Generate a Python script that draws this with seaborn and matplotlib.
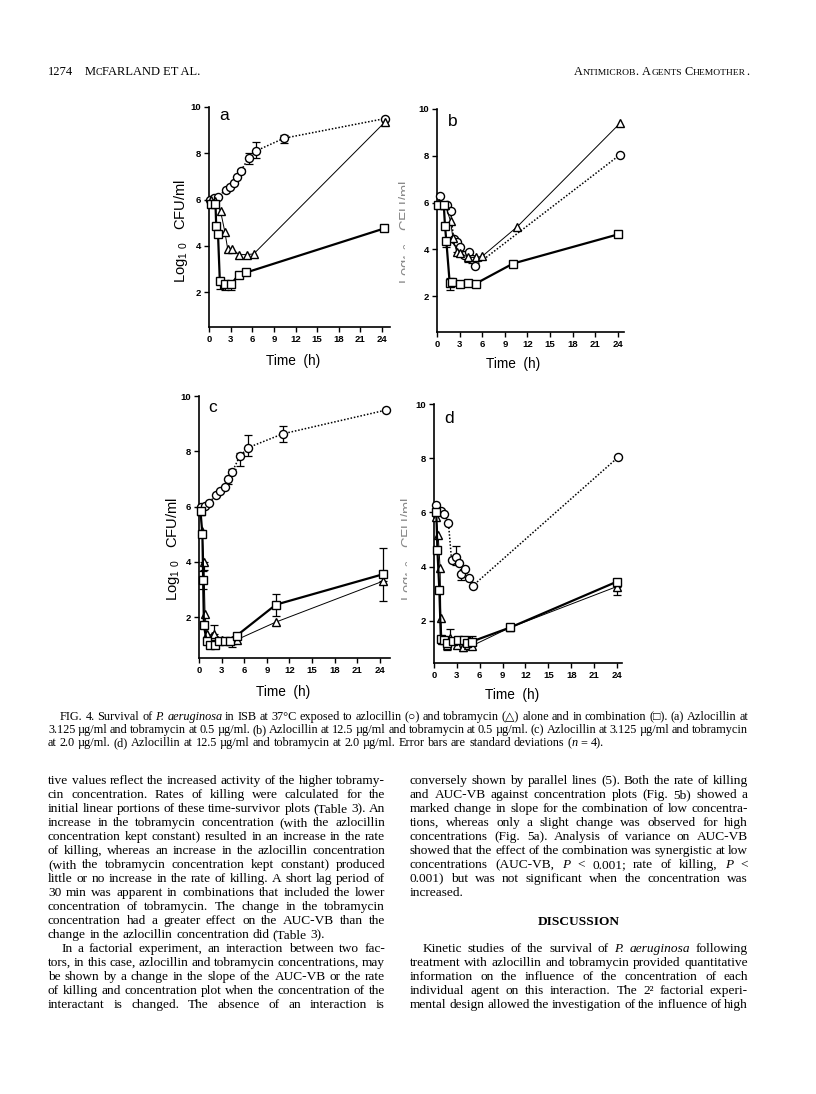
import matplotlib
matplotlib.use("Agg")
import matplotlib.pyplot as plt
import seaborn as sns
import pandas as pd
from matplotlib.font_manager import FontProperties
from matplotlib.transforms import Bbox

# ---------------- data ----------------
time_ticks = [0, 3, 6, 9, 12, 15, 18, 21, 24]
log_ticks = [2, 4, 6, 8, 10]

# panel a: azlocillin 3.125 / tobramycin 0.5
a_circ_x = [0.2, 0.75, 1.3, 2.3, 2.9, 3.4, 3.9, 4.4, 5.5, 6.5, 10.4, 24.4]
a_circ_y = [6.0, 6.05, 6.12, 6.43, 6.55, 6.7, 6.96, 7.23, 7.8, 8.1, 8.65, 9.5]
a_tri_x = [0.3, 0.9, 1.6, 2.2, 2.6, 3.2, 4.2, 5.3, 6.2, 24.4]
a_tri_y = [6.0, 5.95, 5.5, 4.6, 3.85, 3.85, 3.62, 3.62, 3.65, 9.35]
a_sq_x = [0.3, 0.9, 1.0, 1.25, 1.5, 2.2, 3.1, 4.1, 5.2, 24.3]
a_sq_y = [5.8, 5.8, 4.85, 4.5, 2.5, 2.35, 2.35, 2.75, 2.85, 4.75]
a_err_x = [4.4, 5.5, 6.5, 10.4, 1.5, 2.2, 3.1]
a_err_y = [7.23, 7.8, 8.1, 8.65, 2.5, 2.35, 2.35]
a_err_lo = [0.1, 0.25, 0.3, 0.2, 0.35, 0.25, 0.25]
a_err_hi = [0.1, 0.2, 0.4, 0.15, 0.0, 0.0, 0.0]

# panel b: azlocillin 12.5 / tobramycin 0.5
b_circ_x = [0.35, 1.3, 1.8, 2.2, 2.7, 3.1, 3.6, 4.2, 4.7, 5.1, 24.3]
b_circ_y = [6.27, 5.9, 5.64, 4.45, 4.3, 4.1, 3.75, 3.9, 3.6, 3.3, 8.05]
b_tri_x = [0.2, 1.1, 1.8, 2.1, 2.6, 3.1, 4.1, 5.2, 6.0, 10.6, 24.3]
b_tri_y = [6.0, 5.9, 5.2, 4.5, 3.9, 3.85, 3.65, 3.65, 3.7, 4.95, 9.4]
b_sq_x = [0.18, 0.9, 1.06, 1.24, 1.68, 2.04, 3.1, 4.12, 5.14, 10.1, 24.05]
b_sq_y = [5.89, 5.89, 5.0, 4.34, 2.57, 2.6, 2.5, 2.57, 2.53, 3.39, 4.64]
b_err_x = [1.24, 1.68, 2.6, 3.1, 4.1, 4.7]
b_err_y = [4.34, 2.57, 3.9, 3.85, 3.65, 3.6]
b_err_lo = [0.25, 0.3, 0.0, 0.15, 0.2, 0.2]
b_err_hi = [0.0, 0.2, 0.35, 0.25, 0.0, 0.0]

# panel c: azlocillin 3.125 / tobramycin 2.0
c_circ_x = [0.2, 0.75, 1.3, 2.3, 2.8, 3.4, 3.9, 4.4, 5.4, 6.5, 11.1, 24.8]
c_circ_y = [6.0, 6.03, 6.14, 6.42, 6.56, 6.7, 6.98, 7.25, 7.82, 8.13, 8.63, 9.49]
c_tri_x = [0.2, 0.4, 0.65, 0.8, 1.05, 1.7, 2.0, 3.1, 4.4, 5.0, 10.2, 24.4]
c_tri_y = [5.83, 5.1, 4.0, 2.12, 1.4, 1.33, 1.4, 1.18, 1.18, 1.18, 1.82, 3.3]
c_sq_x = [0.2, 0.45, 0.55, 0.65, 1.0, 1.4, 2.1, 2.7, 3.5, 4.1, 5.0, 10.2, 24.4]
c_sq_y = [5.83, 5.0, 3.35, 1.7, 1.15, 1.0, 1.0, 1.15, 1.13, 1.13, 1.33, 2.45, 3.55]
c_err_x = [3.9, 4.4, 5.4, 6.5, 11.1, 0.55, 10.2, 24.4, 0.65, 2.0, 24.4, 4.4]
c_err_y = [6.98, 7.25, 7.82, 8.13, 8.63, 3.35, 2.45, 3.55, 4.0, 1.4, 3.3, 1.18]
c_err_lo = [0.15, 0.0, 0.35, 0.3, 0.3, 0.35, 0.4, 0.0, 0.3, 0.0, 0.7, 0.25]
c_err_hi = [0.0, 0.1, 0.1, 0.45, 0.3, 0.3, 0.4, 0.95, 0.0, 0.3, 0.0, 0.0]

# panel d: azlocillin 12.5 / tobramycin 2.0
d_circ_x = [0.25, 0.95, 1.35, 1.9, 2.3, 2.85, 3.25, 3.6, 4.1, 4.6, 5.1, 24.2]
d_circ_y = [6.28, 6.05, 5.95, 5.6, 4.25, 4.35, 4.15, 3.75, 3.9, 3.57, 3.3, 8.05]
d_tri_x = [0.25, 0.55, 0.8, 0.9, 1.05, 1.65, 2.1, 3.05, 3.85, 4.4, 4.95, 10.0, 24.0]
d_tri_y = [5.85, 5.17, 3.95, 2.1, 1.28, 1.12, 1.37, 1.12, 1.05, 1.1, 1.08, 1.76, 3.27]
d_sq_x = [0.3, 0.45, 0.7, 0.9, 1.3, 1.65, 2.5, 3.1, 3.9, 4.3, 4.95, 10.0, 24.0]
d_sq_y = [6.0, 4.6, 3.15, 1.33, 1.3, 1.2, 1.25, 1.3, 1.28, 1.2, 1.24, 1.76, 3.45]
d_err_x = [2.85, 3.6, 24.0, 2.1, 1.65, 3.85, 4.3, 4.95]
d_err_y = [4.35, 3.75, 3.27, 1.37, 1.12, 1.05, 1.2, 1.24]
d_err_lo = [0.3, 0.25, 0.3, 0.0, 0.2, 0.15, 0.0, 0.0]
d_err_hi = [0.4, 0.0, 0.0, 0.35, 0.0, 0.0, 0.2, 0.2]

# ---------------- text ----------------
header_left_num = "1274"
header_left = [("M", 9.0), ("C", 7.0), ("FARLAND ET AL.", 9.0)]
header_right = [("A", 8.8), ("NTIMICROB", 6.8), (". ", 8.8), ("A", 8.8), ("GENTS", 6.8),
                (" ", 8.8), ("C", 8.8), ("HEMOTHER", 6.8), (".", 8.8)]

caption_lines = [
    "FIG. 4. Survival of *P.* *aeruginosa* in ISB at 37°C exposed to azlocillin (○) and tobramycin (△) alone and in combination (□). (a) Azlocillin at",
    "3.125 µg/ml and tobramycin at 0.5 µg/ml. (b) Azlocillin at 12.5 µg/ml and tobramycin at 0.5 µg/ml. (c) Azlocillin at 3.125 µg/ml and tobramycin",
    "at 2.0 µg/ml. (d) Azlocillin at 12.5 µg/ml and tobramycin at 2.0 µg/ml. Error bars are standard deviations (*n* = 4).",
]

left_lines = [
    "tive values reflect the increased activity of the higher tobramy-",
    "cin concentration. Rates of killing were calculated for the",
    "initial linear portions of these time-survivor plots (Table 3). An",
    "increase in the tobramycin concentration (with the azlocillin",
    "concentration kept constant) resulted in an increase in the rate",
    "of killing, whereas an increase in the azlocillin concentration",
    "(with the tobramycin concentration kept constant) produced",
    "little or no increase in the rate of killing. A short lag period of",
    "30 min was apparent in combinations that included the lower",
    "concentration of tobramycin. The change in the tobramycin",
    "concentration had a greater effect on the AUC-VB than the",
    "change in the azlocillin concentration did (Table 3).",
    "In a factorial experiment, an interaction between two fac-",
    "tors, in this case, azlocillin and tobramycin concentrations, may",
    "be shown by a change in the slope of the AUC-VB or the rate",
    "of killing and concentration plot when the concentration of the",
    "interactant is changed. The absence of an interaction is",
]
left_last = {11}
left_indent = {12}

right_lines = [
    "conversely shown by parallel lines (5). Both the rate of killing",
    "and AUC-VB against concentration plots (Fig. 5b) showed a",
    "marked change in slope for the combination of low concentra-",
    "tions, whereas only a slight change was observed for high",
    "concentrations (Fig. 5a). Analysis of variance on AUC-VB",
    "showed that the effect of the combination was synergistic at low",
    "concentrations (AUC-VB, *P* < 0.001; rate of killing, *P* <",
    "0.001) but was not significant when the concentration was",
    "increased.",
]
right_heading = "DISCUSSION"
right_lines2 = [
    "Kinetic studies of the survival of *P.* *aeruginosa* following",
    "treatment with azlocillin and tobramycin provided quantitative",
    "information on the influence of the concentration of each",
    "individual agent on this interaction. The 2² factorial experi-",
    "mental design allowed the investigation of the influence of high",
]

# ---------------- figure ----------------
sns.set_theme(style="ticks")
plt.rcParams["font.family"] = ["Liberation Sans", "DejaVu Sans"]
plt.rcParams["mathtext.fontset"] = "custom"
plt.rcParams["mathtext.rm"] = "Liberation Sans"
plt.rcParams["mathtext.it"] = "Liberation Sans:italic"

W, H = 816, 1094
fig = plt.figure(figsize=(W / 100, H / 100), dpi=100, facecolor="white")


def fx(px):
    return px / W


def fy(py):
    return 1 - py / H


panels = [
    dict(box=(209, 390, 107, 327), xlim=(0, 25.1), ylim=(0.49, 10), letter="a", lpos=(224, 116),
         circ=(a_circ_x, a_circ_y), tri=(a_tri_x, a_tri_y), sq=(a_sq_x, a_sq_y),
         err=(a_err_x, a_err_y, a_err_lo, a_err_hi), ylab=(181, 231), xlab=(293, 361), faint=False),
    dict(box=(437, 624, 109, 332), xlim=(0, 24.8), ylim=(0.46, 10), letter="b", lpos=(453, 122),
         circ=(b_circ_x, b_circ_y), tri=(b_tri_x, b_tri_y), sq=(b_sq_x, b_sq_y),
         err=(b_err_x, b_err_y, b_err_lo, b_err_hi), ylab=(406, 232), xlab=(513, 364), faint=True),
    dict(box=(199, 390, 396, 658), xlim=(0, 25.33), ylim=(0.52, 10), letter="c", lpos=(213, 407),
         circ=(c_circ_x, c_circ_y), tri=(c_tri_x, c_tri_y), sq=(c_sq_x, c_sq_y),
         err=(c_err_x, c_err_y, c_err_lo, c_err_hi), ylab=(173, 549), xlab=(283, 692), faint=False),
    dict(box=(434, 622, 404, 663), xlim=(0, 24.66), ylim=(0.45, 10), letter="d", lpos=(449, 418),
         circ=(d_circ_x, d_circ_y), tri=(d_tri_x, d_tri_y), sq=(d_sq_x, d_sq_y),
         err=(d_err_x, d_err_y, d_err_lo, d_err_hi), ylab=(408, 549), xlab=(512, 695), faint=True),
]

series_style = [
    ("circ", "o", (0, (1.0, 1.2)), 1.1, 3),
    ("tri", "^", "-", 0.7, 4),
    ("sq", "s", "-", 1.6, 5),
]

for p in panels:
    l, r, t, b = p["box"]
    ax = fig.add_axes([fx(l), fy(b), (r - l) / W, (b - t) / H])
    ax.set_facecolor("none")
    for key, marker, ls, lw, z in series_style:
        xs, ys = p[key]
        df = pd.DataFrame({"time": xs, "logcfu": ys})
        sns.lineplot(data=df, x="time", y="logcfu", ax=ax, sort=False, estimator=None,
                     color="black", linewidth=lw, linestyle=ls, marker=marker,
                     markersize=5.8 if marker != "^" else 6.0,
                     markerfacecolor="white", markeredgecolor="black",
                     markeredgewidth=1.0, clip_on=False, zorder=z)
    ex, ey, elo, ehi = p["err"]
    ax.errorbar(ex, ey, yerr=[elo, ehi], fmt="none", ecolor="black", elinewidth=0.9,
                capsize=3.0, capthick=0.9, clip_on=False, zorder=2)
    ax.set_xlim(*p["xlim"])
    ax.set_ylim(*p["ylim"])
    ax.set_xticks(time_ticks)
    ax.set_yticks(log_ticks)
    ax.set_xticklabels([str(v) for v in time_ticks])
    ax.set_yticklabels([str(v) for v in log_ticks])
    ax.set_xlabel("")
    ax.set_ylabel("")
    ax.grid(False)
    sns.despine(ax=ax)
    for s in ("left", "bottom"):
        ax.spines[s].set_linewidth(1.2)
        ax.spines[s].set_color("black")
    ax.tick_params(direction="out", length=3.5, width=1.0, colors="black",
                   labelsize=6.8, pad=2)
    for lab in ax.get_xticklabels() + ax.get_yticklabels():
        lab.set_fontweight("bold")
    fig.text(fx(p["lpos"][0]), fy(p["lpos"][1]), p["letter"], fontsize=12.5,
             ha="center", va="center", color="black")
    fig.text(fx(p["xlab"][0]), fy(p["xlab"][1]), "Time  (h)", fontsize=9.8,
             ha="center", va="center", color="black")
    yl = fig.text(fx(p["ylab"][0]), fy(p["ylab"][1]), r"Log$_{1\ \,0}$   CFU/ml", rotation=90,
                  fontsize=10.6, ha="center", va="center", color="black")
    if p["faint"]:
        # only a sliver of this label survives in the scan
        yl.set_clip_box(Bbox([[0, 0], [p["ylab"][0] - 1, H]]))
        yl.set_clip_on(True)
        yl.set_color("#8a8a8a")

# ---------------- page text ----------------
renderer = fig.canvas.get_renderer()
SERIF = ["Liberation Serif", "DejaVu Sans"]
_cache = {}


def fprop(size, style="normal", weight="normal"):
    return FontProperties(family=SERIF, size=size, style=style, weight=weight)


def twidth(s, fp):
    key = (s, fp.get_size_in_points(), fp.get_style(), fp.get_weight())
    if key not in _cache:
        tt = fig.text(0, 0, s, fontproperties=fp)
        _cache[key] = tt.get_window_extent(renderer).width
        tt.remove()
    return _cache[key]


def parse_word(w, fr, fi):
    runs = []
    for i, part in enumerate(w.split("*")):
        if part:
            runs.append((part, fi if i % 2 else fr))
    return runs


def layout(text, size):
    fr, fi = fprop(size), fprop(size, style="italic")
    words = [parse_word(w, fr, fi) for w in text.split()]
    widths = [sum(twidth(s, f) for s, f in wd) for wd in words]
    return words, widths


def draw_line(text, x0, x1, base, size, justify=True, indent=0.0):
    start = x0 + indent
    words, widths = layout(text, size)
    if justify:
        # shrink if the line cannot hold a minimal word space
        while (sum(widths) + 0.14 * size * 100 / 72 * (len(words) - 1) > x1 - start
               and size > 5):
            size -= 0.2
            words, widths = layout(text, size)
    space = 0.25 * size * 100 / 72
    if justify and len(words) > 1:
        gap = (x1 - start - sum(widths)) / (len(words) - 1)
    else:
        gap = space
    x = start
    for wd, w in zip(words, widths):
        xx = x
        for s, f in wd:
            fig.text(fx(xx), fy(base), s, fontproperties=f, ha="left", va="baseline",
                     color="black")
            xx += twidth(s, f)
        x += w + gap


def draw_runs(runs, x, base, align="left"):
    total = sum(twidth(s, fprop(sz)) for s, sz in runs)
    xx = x if align == "left" else x - total
    for s, sz in runs:
        fp = fprop(sz)
        fig.text(fx(xx), fy(base), s, fontproperties=fp, ha="left", va="baseline", color="black")
        xx += twidth(s, fp)


# header
draw_runs([(header_left_num, 9.0)], 48, 75)
draw_runs(header_left, 85, 75)
draw_runs(header_right, 749, 75, align="right")

# caption
CAP = 8.8
cap_base = [720, 733, 746]
for i, line in enumerate(caption_lines):
    draw_line(line, 48, 748, cap_base[i], CAP, justify=(i < len(caption_lines) - 1),
              indent=12 if i == 0 else 0)

# body columns
LX0, LX1 = 48, 385
RX0, RX1 = 410, 748
BODY = 9.6
B0, LS = 784, 14.0
for k, line in enumerate(left_lines):
    draw_line(line, LX0, LX1, B0 + LS * k, BODY, justify=(k not in left_last),
              indent=13 if k in left_indent else 0)
for k, line in enumerate(right_lines):
    draw_line(line, RX0, RX1, B0 + LS * k, BODY, justify=(k < len(right_lines) - 1))
fig.text(fx((RX0 + RX1) / 2), fy(925), right_heading,
         fontproperties=fprop(9.6, weight="bold"), ha="center", va="baseline", color="black")
for k, line in enumerate(right_lines2):
    draw_line(line, RX0, RX1, B0 + LS * (12 + k), BODY, justify=True,
              indent=13 if k == 0 else 0)

fig.savefig("out.png", dpi=100, facecolor="white")
